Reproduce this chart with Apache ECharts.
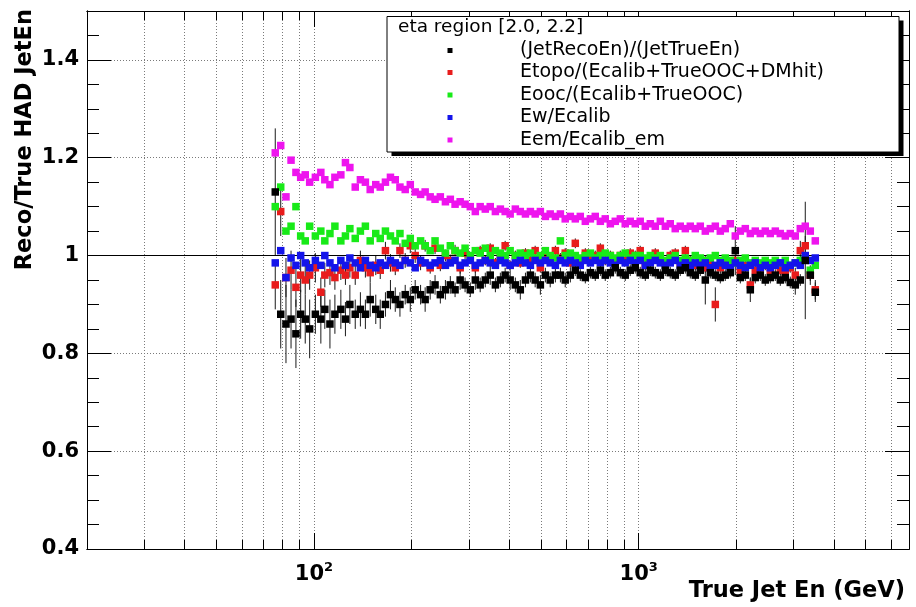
<!DOCTYPE html>
<html>
<head>
<meta charset="utf-8">
<title>Reco/True HAD JetEn vs True Jet En</title>
<script src="https://cdn.jsdelivr.net/npm/echarts@6/dist/echarts.min.js"></script>
<style>
  html, body { margin: 0; padding: 0; background: #ffffff; }
  #chart { width: 916px; height: 607px; }
</style>
</head>
<body>
<div id="chart"></div>
<script>
// True jet energy of each bin (GeV)
const energy = [76, 79, 82, 85, 88, 91, 94, 97, 101, 105, 108, 112, 116, 121, 125, 129, 134, 139, 144, 149,
  155, 160, 166, 172, 178, 184, 191, 198, 205, 213, 220, 228, 236, 245, 254, 263, 272, 282, 292, 303,
  314, 325, 337, 349, 362, 375, 388, 402, 417, 432, 448, 464, 480, 498, 516, 534, 554, 574, 594, 616,
  638, 661, 685, 710, 735, 762, 789, 818, 847, 878, 909, 942, 976, 1011, 1048, 1086, 1125, 1166, 1208, 1251,
  1296, 1343, 1392, 1442, 1494, 1548, 1604, 1662, 1722, 1784, 1848, 1915, 1984, 2056, 2130, 2207, 2286, 2369, 2454, 2543,
  2635, 2730, 2828, 2930, 3036, 3146, 3259, 3377, 3499];

// (JetRecoEn)/(JetTrueEn)
const recoOverTrue = [1.13, 0.88, 0.86, 0.87, 0.84, 0.88, 0.87, 0.85, 0.88, 0.87,
  0.89, 0.86, 0.88, 0.89, 0.87, 0.90, 0.88, 0.89, 0.88, 0.91,
  0.89, 0.88, 0.90, 0.92, 0.91, 0.90, 0.92, 0.91, 0.93, 0.92,
  0.91, 0.93, 0.94, 0.92, 0.93, 0.94, 0.93, 0.95, 0.94, 0.93,
  0.95, 0.94, 0.95, 0.96, 0.94, 0.95, 0.96, 0.95, 0.94, 0.93,
  0.95, 0.96, 0.95, 0.94, 0.96, 0.95, 0.96, 0.96, 0.95, 0.96,
  0.97, 0.96, 0.955, 0.965, 0.96, 0.97, 0.96, 0.965, 0.975, 0.965,
  0.96, 0.97, 0.975, 0.965, 0.96, 0.97, 0.965, 0.96, 0.97, 0.965,
  0.96, 0.97, 0.975, 0.965, 0.96, 0.97, 0.95, 0.965, 0.96, 0.955,
  0.96, 0.965, 1.01, 0.955, 0.96, 0.93, 0.955, 0.96, 0.95, 0.955,
  0.96, 0.95, 0.955, 0.945, 0.94, 0.95, 0.99, 0.96, 0.925];
const recoOverTrueErr = [0.13, 0.07, 0.08, 0.06, 0.07, 0.05, 0.05, 0.06, 0.04, 0.05,
  0.04, 0.05, 0.04, 0.04, 0.035, 0.04, 0.03, 0.035, 0.03, 0.035,
  0.03, 0.03, 0.025, 0.03, 0.025, 0.025, 0.02, 0.025, 0.02, 0.02,
  0.025, 0.02, 0.02, 0.018, 0.02, 0.018, 0.015, 0.02, 0.015, 0.015,
  0.02, 0.015, 0.015, 0.02, 0.015, 0.015, 0.015, 0.02, 0.015, 0.02,
  0.015, 0.015, 0.015, 0.02, 0.015, 0.015, 0.015, 0.015, 0.015, 0.015,
  0.012, 0.012, 0.012, 0.012, 0.012, 0.012, 0.012, 0.012, 0.012, 0.012,
  0.012, 0.012, 0.012, 0.012, 0.012, 0.012, 0.012, 0.012, 0.012, 0.012,
  0.012, 0.012, 0.012, 0.012, 0.012, 0.012, 0.05, 0.012, 0.012, 0.012,
  0.012, 0.012, 0.05, 0.012, 0.012, 0.025, 0.012, 0.012, 0.012, 0.012,
  0.012, 0.012, 0.012, 0.012, 0.02, 0.012, 0.12, 0.012, 0.02];

// Etopo/(Ecalib+TrueOOC+DMhit)
const etopoRatio = [0.94, 1.09, 0.955, 0.97, 0.935, 0.96, 0.95, 0.96, 0.975, 0.925,
  0.96, 0.965, 0.955, 0.97, 0.96, 0.975, 0.96, 0.99, 0.975, 0.965,
  0.98, 0.97, 1.01, 0.985, 0.975, 1.01, 0.99, 1.02, 1.0, 0.985,
  1.02, 0.975, 1.015, 0.98, 1.0, 0.99, 1.01, 0.975, 1.005, 0.995,
  0.975, 1.01, 0.99, 1.015, 0.985, 0.995, 1.02, 0.98, 1.0, 0.985,
  1.005, 0.99, 1.01, 0.975, 1.0, 0.99, 1.01, 0.995, 1.005, 0.985,
  1.025, 0.99, 1.005, 0.995, 1.0, 1.015, 0.99, 1.0, 0.985, 1.0,
  0.99, 1.005, 1.0, 1.01, 0.98, 0.99, 1.005, 0.99, 0.985, 1.0,
  1.005, 0.985, 1.01, 0.99, 0.98, 0.985, 0.975, 0.99, 0.90, 0.975,
  0.985, 0.98, 0.99, 0.97, 0.98, 0.94, 0.97, 0.975, 0.98, 0.97,
  0.985, 0.97, 0.965, 0.975, 0.96, 1.01, 1.02, 0.96, 0.93];
const etopoRatioErr = [0.05, 0.05, 0.04, 0.04, 0.04, 0.035, 0.03, 0.03, 0.03, 0.03,
  0.025, 0.025, 0.025, 0.02, 0.02, 0.02, 0.02, 0.02, 0.02, 0.02,
  0.02, 0.018, 0.018, 0.018, 0.015, 0.015, 0.015, 0.015, 0.015, 0.015,
  0.012, 0.012, 0.012, 0.012, 0.012, 0.012, 0.012, 0.012, 0.012, 0.012,
  0.01, 0.01, 0.01, 0.01, 0.01, 0.01, 0.01, 0.01, 0.01, 0.01,
  0.01, 0.01, 0.01, 0.01, 0.01, 0.01, 0.01, 0.01, 0.01, 0.01,
  0.01, 0.01, 0.01, 0.01, 0.01, 0.01, 0.01, 0.01, 0.01, 0.01,
  0.01, 0.01, 0.01, 0.01, 0.01, 0.01, 0.01, 0.01, 0.01, 0.01,
  0.01, 0.01, 0.01, 0.01, 0.01, 0.01, 0.01, 0.01, 0.035, 0.01,
  0.01, 0.01, 0.01, 0.01, 0.01, 0.015, 0.01, 0.01, 0.01, 0.01,
  0.01, 0.01, 0.01, 0.01, 0.015, 0.02, 0.02, 0.02, 0.02];

// Eooc/(Ecalib+TrueOOC)
const eoocRatio = [1.10, 1.14, 1.05, 1.06, 1.10, 1.04, 1.03, 1.06, 1.04, 1.05,
  1.03, 1.045, 1.06, 1.03, 1.04, 1.055, 1.035, 1.05, 1.06, 1.03,
  1.045, 1.035, 1.05, 1.04, 1.03, 1.045, 1.025, 1.035, 1.02, 1.03,
  1.02, 1.01, 1.03, 1.015, 1.005, 1.02, 1.01, 1.005, 1.015, 1.0,
  1.01, 1.005, 1.015, 1.0, 1.01, 1.005, 1.0, 1.01, 1.0, 1.005,
  1.0, 1.005, 0.995, 1.0, 1.01, 1.0, 0.995, 1.03, 1.0, 1.005,
  1.0, 0.995, 1.0, 1.005, 0.995, 1.0, 1.005, 1.0, 0.995, 1.0,
  1.005, 0.995, 1.0, 1.0, 0.995, 1.0, 0.995, 1.0, 0.99, 0.995,
  1.0, 0.99, 0.995, 0.99, 1.0, 0.995, 0.99, 0.995, 1.0, 0.99,
  0.995, 0.99, 0.985, 0.99, 0.995, 0.985, 0.99, 0.985, 0.99, 0.985,
  0.99, 0.985, 0.99, 0.98, 0.985, 0.99, 0.995, 0.97, 0.98];

// Ew/Ecalib
const ewRatio = [0.985, 1.01, 0.955, 0.995, 0.98, 1.0, 0.985, 0.975, 0.99, 0.98,
  1.0, 0.985, 0.975, 0.99, 0.98, 0.995, 0.985, 0.975, 0.99, 0.98,
  0.975, 0.985, 0.98, 0.99, 0.985, 0.98, 0.99, 0.985, 0.975, 0.99,
  0.985, 0.98, 0.985, 0.99, 0.98, 0.985, 0.99, 0.98, 0.985, 0.99,
  0.98, 0.985, 0.99, 0.985, 0.98, 0.99, 0.985, 0.98, 0.985, 0.99,
  0.985, 0.98, 0.99, 0.985, 0.99, 0.985, 0.98, 0.99, 0.985, 0.99,
  0.985, 0.98, 0.99, 0.985, 0.99, 0.985, 0.99, 0.985, 0.98, 0.99,
  0.985, 0.99, 0.985, 0.99, 0.98, 0.985, 0.99, 0.985, 0.98, 0.985,
  0.99, 0.98, 0.985, 0.98, 0.985, 0.98, 0.985, 0.975, 0.98, 0.985,
  0.98, 0.975, 0.985, 0.98, 0.975, 0.98, 0.985, 0.975, 0.98, 0.975,
  0.98, 0.985, 0.975, 0.98, 0.985, 0.98, 1.0, 0.99, 0.995];

// Eem/Ecalib_em
const eemRatio = [1.21, 1.225, 1.12, 1.195, 1.17, 1.16, 1.165, 1.15, 1.16, 1.17,
  1.155, 1.145, 1.16, 1.165, 1.19, 1.18, 1.14, 1.155, 1.15, 1.135,
  1.145, 1.14, 1.15, 1.16, 1.155, 1.14, 1.135, 1.145, 1.13, 1.125,
  1.13, 1.12, 1.115, 1.12, 1.11, 1.115, 1.105, 1.11, 1.105, 1.10,
  1.09, 1.10, 1.095, 1.10, 1.09, 1.095, 1.09, 1.085, 1.095, 1.09,
  1.085, 1.09, 1.085, 1.09, 1.08, 1.085, 1.08, 1.085, 1.075, 1.08,
  1.075, 1.08, 1.07, 1.075, 1.08, 1.07, 1.075, 1.065, 1.07, 1.075,
  1.065, 1.07, 1.065, 1.07, 1.06, 1.065, 1.06, 1.07, 1.06, 1.065,
  1.055, 1.06, 1.055, 1.06, 1.055, 1.06, 1.05, 1.055, 1.06, 1.05,
  1.055, 1.065, 1.04, 1.05, 1.055, 1.045, 1.05, 1.045, 1.05, 1.045,
  1.05, 1.045, 1.04, 1.045, 1.04, 1.055, 1.06, 1.05, 1.03];

const seriesNames = ['(JetRecoEn)/(JetTrueEn)', 'Etopo/(Ecalib+TrueOOC+DMhit)',
  'Eooc/(Ecalib+TrueOOC)', 'Ew/Ecalib', 'Eem/Ecalib_em'];
const seriesColors = ['#000000', '#e81c1c', '#18ea18', '#1414ea', '#ee14ee'];
const legendHeader = 'eta region [2.0, 2.2]';

// Axis ticks
const majorTicksX = [100, 1000];
const minorTicksX = [20, 30, 40, 50, 60, 70, 80, 90, 200, 300, 400, 500, 600, 700, 800, 900,
  2000, 3000, 4000, 5000, 6000];
const majorTicksY = [0.4, 0.6, 0.8, 1.0, 1.2, 1.4];
const minorTicksY = [0.45, 0.5, 0.55, 0.65, 0.7, 0.75, 0.85, 0.9, 0.95, 1.05, 1.1, 1.15,
  1.25, 1.3, 1.35, 1.45];
const xTitle = 'True Jet En (GeV)';
const yTitle = 'Reco/True HAD JetEn';

const FONT = 'DejaVu Sans';
const chart = echarts.init(document.getElementById('chart'), null, { renderer: 'canvas' });

const gridLine = { show: true, lineStyle: { color: '#7a7a7a', width: 1, type: [1, 2] } };

function xAxisDef(position, ticks, len, withLabels, withGrid) {
  return {
    type: 'log', logBase: 10, min: 20, max: 6800, position: position,
    axisLine: { show: true, onZero: false, lineStyle: { color: '#000', width: 1 } },
    axisTick: { show: true, inside: true, length: len, customValues: ticks, lineStyle: { color: '#000', width: 1 } },
    axisLabel: withLabels ? {
      show: true, margin: 12, customValues: ticks,
      formatter: v => '{b|10}{s|' + Math.round(Math.log10(v)) + '}',
      rich: {
        b: { fontFamily: FONT, fontWeight: 'bold', fontSize: 21, color: '#000', verticalAlign: 'bottom', lineHeight: 24 },
        s: { fontFamily: FONT, fontWeight: 'bold', fontSize: 13, color: '#000', verticalAlign: 'bottom', lineHeight: 24, padding: [0, 0, 11, 0] }
      }
    } : { show: false },
    splitLine: withGrid ? gridLine : { show: false },
    minorTick: { show: false }
  };
}

function yAxisDef(position, ticks, len, withLabels, withGrid) {
  return {
    type: 'value', min: 0.4, max: 1.5, position: position,
    axisLine: { show: true, onZero: false, lineStyle: { color: '#000', width: 1 } },
    axisTick: { show: true, inside: true, length: len, customValues: ticks, lineStyle: { color: '#000', width: 1 } },
    axisLabel: withLabels ? {
      show: true, margin: 8, customValues: ticks,
      fontFamily: FONT, fontWeight: 'bold', fontSize: 21, color: '#000',
      formatter: v => String(+v.toFixed(1))
    } : { show: false },
    splitLine: withGrid ? gridLine : { show: false }
  };
}

function scatterSeries(idx, ys, extra) {
  return Object.assign({
    type: 'scatter', name: seriesNames[idx],
    xAxisIndex: 0, yAxisIndex: 0,
    symbol: 'rect', symbolSize: 7.5,
    itemStyle: { color: seriesColors[idx], opacity: 1 },
    data: energy.map((e, i) => [e, ys[i]]),
    z: 3 + idx, silent: true
  }, extra || {});
}

function errorBarSeries(name, ys, errs, color, z) {
  return {
    type: 'custom', name: name,
    xAxisIndex: 0, yAxisIndex: 0,
    data: energy.map((e, i) => [e, ys[i], errs[i]]),
    encode: { x: 0, y: 1 },
    renderItem: function (params, api) {
      const x = api.value(0), y = api.value(1), err = api.value(2);
      const hi = api.coord([x, y + err]);
      const lo = api.coord([x, y - err]);
      return {
        type: 'line',
        shape: { x1: hi[0], y1: hi[1], x2: lo[0], y2: lo[1] },
        style: { stroke: color, lineWidth: 1 }
      };
    },
    z: z, silent: true
  };
}

// Legend box with shadow, built from the series names and colours
const legLeft = 387, legTop = 16.5, legW = 512, legH = 135.5;
const legendRowsY = [50.5, 72.5, 95, 117.5, 140];
const legendGraphics = [
  { type: 'rect', shape: { x: legLeft + 4.5, y: legTop + 4, width: legW, height: legH }, style: { fill: '#000' }, z: 100 },
  { type: 'rect', shape: { x: legLeft, y: legTop, width: legW, height: legH }, style: { fill: '#fff', stroke: '#000', lineWidth: 1 }, z: 101 },
  { type: 'text', x: 398, y: 27, style: { text: legendHeader, font: 'normal 18.5px "DejaVu Sans"', fill: '#000', verticalAlign: 'middle', align: 'left' }, z: 102 }
];
seriesNames.forEach((name, i) => {
  legendGraphics.push({ type: 'rect', shape: { x: 447.5, y: legendRowsY[i] - 2.5, width: 5, height: 5 }, style: { fill: seriesColors[i] }, z: 102 });
  legendGraphics.push({ type: 'text', x: 520, y: legendRowsY[i], style: { text: name, font: 'normal 19px "DejaVu Sans"', fill: '#000', verticalAlign: 'middle', align: 'left' }, z: 102 });
});

const option = {
  animation: false,
  backgroundColor: '#ffffff',
  grid: { left: 87, right: 7, top: 11, bottom: 58, show: false },
  xAxis: [
    xAxisDef('bottom', majorTicksX, 16, true, true),
    xAxisDef('bottom', minorTicksX, 9, false, true),
    xAxisDef('top', majorTicksX, 16, false, false),
    xAxisDef('top', minorTicksX, 9, false, false)
  ],
  yAxis: [
    yAxisDef('left', majorTicksY, 24, true, true),
    yAxisDef('left', minorTicksY, 12, false, false),
    yAxisDef('right', majorTicksY, 24, false, false),
    yAxisDef('right', minorTicksY, 12, false, false)
  ],
  series: [
    errorBarSeries('err0', recoOverTrue, recoOverTrueErr, '#1a1a1a', 2),
    errorBarSeries('err1', etopoRatio, etopoRatioErr, '#1a1a1a', 2),
    scatterSeries(1, etopoRatio, {
      markLine: {
        silent: true, symbol: 'none', label: { show: false },
        lineStyle: { color: '#000', width: 1, type: 'solid' },
        data: [{ yAxis: 1 }]
      }
    }),
    scatterSeries(2, eoocRatio),
    scatterSeries(3, ewRatio),
    scatterSeries(4, eemRatio),
    scatterSeries(0, recoOverTrue, { z: 8 })
  ],
  graphic: legendGraphics.concat([
    { type: 'text', x: 905, y: 591, style: { text: xTitle, font: 'bold 22.5px "DejaVu Sans"', fill: '#000', align: 'right', verticalAlign: 'middle' }, z: 50 },
    { type: 'text', x: 25, y: 9, rotation: Math.PI / 2, style: { text: yTitle, font: 'bold 22.5px "DejaVu Sans"', fill: '#000', align: 'right', verticalAlign: 'middle' }, z: 50 }
  ])
};
chart.setOption(option);
</script>
</body>
</html>
